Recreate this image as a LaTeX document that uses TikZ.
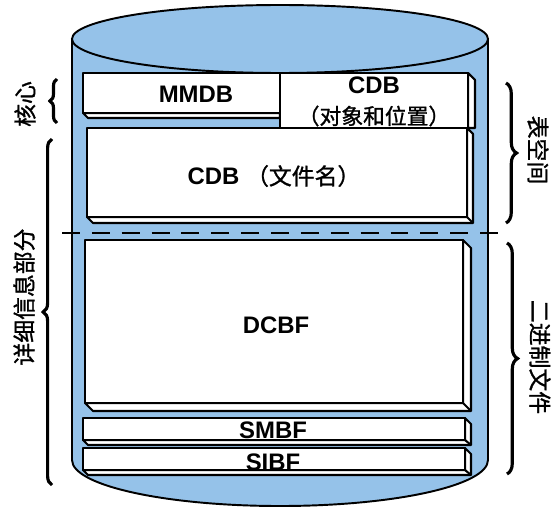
\documentclass[tikz,border=0pt]{standalone}
\usepackage{fontspec}
\setmainfont{Liberation Sans}
\newfontfamily\cjk{Noto Sans CJK SC}[FakeBold=1.2]
\usepackage{tikz}
\usetikzlibrary{decorations.pathreplacing}

\begin{document}
\begin{tikzpicture}[x=0.02cm, y=-0.02cm,
  face/.style={fill=white, draw=black, line width=1.2pt, line join=round},
  latin/.style={font=\fontsize{13.6}{16}\selectfont\bfseries, inner sep=0pt},
  hanzi/.style={font=\fontsize{13}{15}\selectfont\cjk, inner sep=0pt},
  bracebig/.style={decorate, decoration={brace, amplitude=#1}, line width=1.8pt}]

% colori
\definecolor{colCyl}{HTML}{95C2E9}

\useasboundingbox (0,0) rectangle (553,510);

% cilindro
\path[fill=colCyl, draw=black, line width=1.1pt]
(72,39) -- (72,460) arc[start angle=180, end angle=0, x radius=208, y radius=46] -- (488,39) -- cycle;
\path[fill=colCyl, draw=black, line width=1.1pt] (280,39) ellipse[x radius=208, y radius=34];

% MMDB (solo bordo in basso)
\path[face] (83,113) -- (88,118) -- (280,118) -- (280,113) -- cycle;
\path[face] (83,73) rectangle (280,113);

% CDB (file name)
\path[face] (467,128) -- (473,134) -- (473,223) -- (93,223) -- (87,217) -- (467,217) -- cycle;
\draw[line width=1.2pt] (467,217) -- (473,223);
\path[face] (87,128) rectangle (467,217);

% CDB (oggetti e posizione)
\path[face] (468,73) -- (475,80) -- (475,128) -- (468,128) -- cycle;
\path[face] (280,73) rectangle (468,128);

% DCBF
\path[face] (463,240) -- (471,248) -- (471,411) -- (93,411) -- (85,403) -- (463,403) -- cycle;
\draw[line width=1.2pt] (463,403) -- (471,411);
\path[face] (85,240) rectangle (463,403);

% SMBF
\path[face] (465,418) -- (471,424) -- (471,445) -- (88,445) -- (83,440) -- (465,440) -- cycle;
\draw[line width=1.2pt] (465,440) -- (471,445);
\path[face] (83,418) rectangle (465,440);

% SIBF
\path[face] (465,448) -- (471,454) -- (471,475) -- (88,475) -- (83,470) -- (465,470) -- cycle;
\draw[line width=1.2pt] (465,470) -- (471,475);
\path[face] (83,448) rectangle (465,470);

% linea tratteggiata
\draw[line width=1.2pt, dash pattern=on 10.2pt off 6.8pt] (62,233) -- (498,233);

% testi interni
\node[latin] (mmdb) at (196,94) {MMDB};
\node[latin] (cdbtop) at (374,85) {CDB};
\node[hanzi, font=\fontsize{12.4}{15}\selectfont\cjk] (cdbpos) at (374,116) {（对象和位置）};
\node[latin] (cdbname) at (274,176) {CDB {\cjk\mdseries\fontsize{13}{15}\selectfont （文件名）}};
\node[latin] (dcbf) at (276,325) {DCBF};
\node[latin] (smbf) at (273,430) {SMBF};
\node[latin] (sibf) at (273,462) {SIBF};

% etichette esterne
\node[hanzi, rotate=90] (lblcore) at (25,104) {核心};
\node[hanzi, rotate=90] (lbldetail) at (24,297) {详细信息部分};
\node[hanzi, rotate=-90] (lbltbs) at (538,150) {表空间};
\node[hanzi, rotate=-90] (lblbin) at (540,357) {二进制文件};

% parentesi graffe
\coordinate (coreB) at (57,123);
\coordinate (coreT) at (57,79);
\coordinate (detB) at (52,485);
\coordinate (detT) at (52,139);
\coordinate (tbsT) at (506,83);
\coordinate (tbsB) at (506,223);
\coordinate (binT) at (507,243);
\coordinate (binB) at (507,474);
\draw[bracebig=4pt] (coreB) -- (coreT);
\draw[bracebig=5pt] (detB) -- (detT);
\draw[bracebig=6pt] (tbsT) -- (tbsB);
\draw[bracebig=6pt] (binT) -- (binB);

\end{tikzpicture}
\end{document}
